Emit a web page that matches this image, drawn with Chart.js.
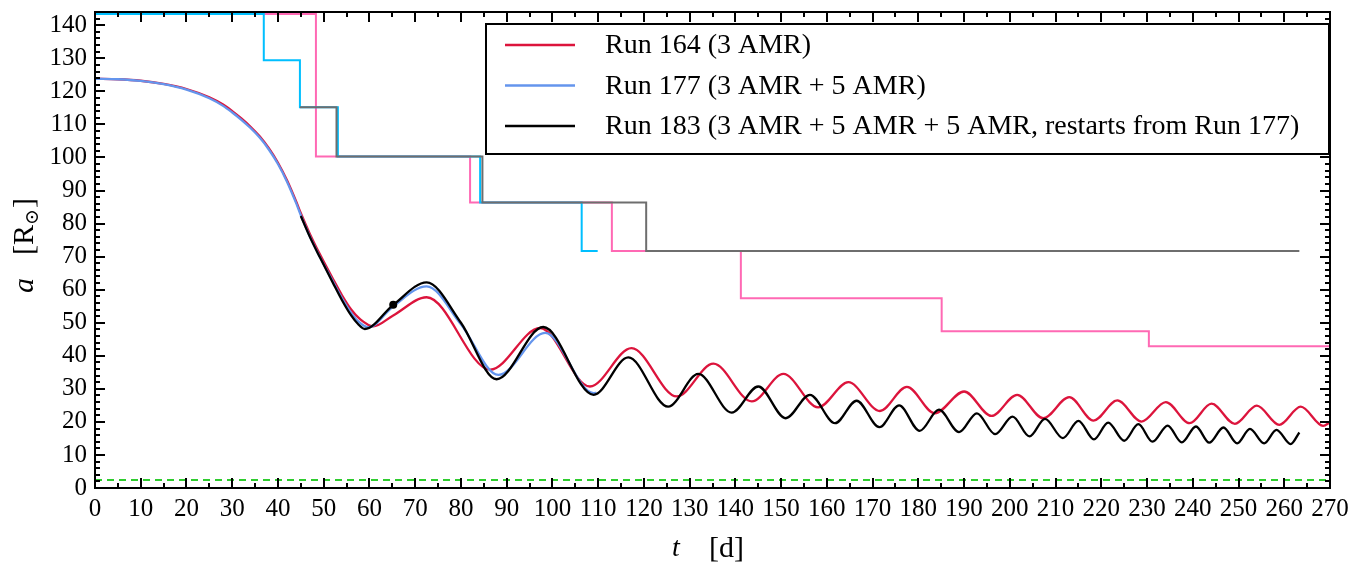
<!DOCTYPE html>
<html lang="en">
<head>
<meta charset="UTF-8">
<title>Separation a(t)</title>
<script src="https://cdn.jsdelivr.net/npm/chart.js"></script>
<style>
  html, body { margin: 0; padding: 0; background: #fff; }
</style>
</head>
<body>
<canvas id="sepChart" width="1371" height="566"></canvas>
<script>
// a(t) for each run, sampled at the extrema plus points along the plunge
const run164T = [0, 5, 10, 15, 20, 25, 28, 30, 32, 34, 36, 38, 40, 42, 44, 45, 47, 49.2, 52, 54, 56, 58, 60.8, 65.2, 72.5, 86.4, 97.3, 108.2, 117.3, 127.2, 135.2, 143.6, 150.5, 158.1, 164.7, 171.6, 177.5, 183.6, 190, 196, 201.6, 207.3, 213, 218.3, 223.5, 228.8, 234.1, 239.3, 244.1, 249.2, 254, 258.9, 263.6, 268.5, 270];
const run164A = [123.8, 123.65, 123.2, 122.25, 120.7, 118.2, 116.0, 114.0, 111.8, 109.3, 106.4, 102.8, 98.4, 93.0, 86.6, 83.1, 76.8, 70.6, 63.3, 58.3, 54.0, 51.0, 48.9, 52.2, 57.7, 35.8, 48.4, 30.7, 42.3, 27.7, 37.6, 26.2, 34.5, 24.4, 32.0, 23.3, 30.6, 22.6, 29.2, 21.8, 28.2, 21.1, 27.5, 20.4, 26.5, 20.1, 26.0, 19.6, 25.5, 19.4, 24.9, 19.1, 24.6, 18.8, 19.9];

const run177T = [0, 5, 10, 15, 20, 25, 28, 30, 32, 34, 36, 38, 40, 42, 44, 45, 47, 49.2, 52, 54, 56, 57.5, 59.8, 65.2, 72.5, 80, 88.2, 98.4, 109, 109.6];
const run177A = [123.8, 123.65, 123.15, 122.15, 120.5, 117.9, 115.6, 113.6, 111.4, 108.9, 106.0, 102.4, 98.0, 92.6, 86.1, 82.5, 76.0, 69.8, 62.5, 57.4, 53.0, 50.5, 48.6, 55.0, 61.0, 49.5, 34.2, 46.9, 28.7, 28.8];

const run183T = [45, 47, 49.2, 52, 54, 56, 57.5, 59, 65.2, 72.5, 80, 87.8, 98, 109, 116.6, 125.3, 131.9, 139.2, 145, 151, 156.3, 161.8, 166.5, 171.5, 175.8, 180.3, 184.5, 188.9, 192.8, 196.8, 200.6, 204.3, 207.7, 211.6, 215, 218.4, 221.5, 225, 228.1, 231.2, 234.5, 237.6, 240.7, 243.6, 246.7, 249.7, 252.5, 255.6, 258.3, 261.4, 263.3];
const run183A = [82.3, 75.9, 69.7, 62.1, 56.8, 52.2, 49.6, 48.1, 55.4, 62.2, 50.0, 32.9, 48.7, 28.2, 39.5, 24.6, 34.5, 22.8, 30.7, 21.1, 28.2, 19.6, 26.4, 18.4, 25.0, 17.3, 23.7, 16.9, 22.6, 16.3, 21.6, 15.6, 20.9, 15.1, 20.3, 14.7, 19.8, 14.3, 19.3, 14.0, 18.9, 13.8, 18.6, 13.7, 18.3, 13.5, 17.9, 13.5, 17.6, 13.3, 16.8];

// step lines: value switches to A[i] at time T[i]
const step164T = [0, 48.3, 82.0, 113.0, 141.2, 185.1, 230.4, 270];
const step164A = [143.4, 100.3, 86.4, 71.7, 57.4, 47.4, 42.9, 42.9];
const step177T = [0, 36.9, 44.8, 53.1, 84.2, 106.4, 109.9];
const step177A = [143.4, 129.4, 115.2, 100.3, 86.4, 71.7, 71.7];
const step183T = [44.8, 52.8, 84.7, 120.5, 263.3];
const step183A = [115.2, 100.3, 86.4, 71.7, 71.7];

// restart marker and the dashed floor
const markT = [65.2];
const markA = [55.4];
const floorT = [0, 270];
const floorA = [2.4, 2.4];

const xMajor = [0, 10, 20, 30, 40, 50, 60, 70, 80, 90, 100, 110, 120, 130, 140, 150, 160, 170, 180, 190, 200, 210, 220, 230, 240, 250, 260, 270];
const yMajor = [0, 10, 20, 30, 40, 50, 60, 70, 80, 90, 100, 110, 120, 130, 140];

const legendLabels = ['Run 164 (3 AMR)', 'Run 177 (3 AMR + 5 AMR)', 'Run 183 (3 AMR + 5 AMR + 5 AMR, restarts from Run 177)'];

const RED = '#dc143c', BLUE = '#6495ed', BLACK = '#000000';
const serif = "'Liberation Serif', 'DejaVu Serif', 'Times New Roman', serif";

const pts = (ts, as) => ts.map((t, i) => ({ x: t, y: as[i] }));

const curve = (label, ts, as, color, order) => ({
  label, data: pts(ts, as), borderColor: color, borderWidth: 2.3,
  pointRadius: 0, cubicInterpolationMode: 'monotone', fill: false, order
});
const step = (ts, as, color, order) => ({
  data: pts(ts, as), borderColor: color, borderWidth: 2,
  pointRadius: 0, stepped: true, fill: false, order
});

// inward ticks on all four sides plus the box frame
const frameTicks = {
  id: 'frameTicks',
  afterDatasetsDraw(chart) {
    const { ctx, chartArea: a, scales: { x, y } } = chart;
    ctx.save();
    ctx.strokeStyle = '#000';
    ctx.lineWidth = 2;
    ctx.beginPath();
    for (let v = 0; v <= 270; v += 5) {
      const px = Math.round(x.getPixelForValue(v));
      const len = v % 10 === 0 ? 10 : 5;
      ctx.moveTo(px, a.bottom); ctx.lineTo(px, a.bottom - len);
      ctx.moveTo(px, a.top); ctx.lineTo(px, a.top + len);
    }
    for (let v = 0; v <= 144; v += 2) {
      const py = Math.round(y.getPixelForValue(v));
      const len = v % 10 === 0 ? 10 : 5;
      ctx.moveTo(a.left, py); ctx.lineTo(a.left + len, py);
      ctx.moveTo(a.right, py); ctx.lineTo(a.right - len, py);
    }
    ctx.stroke();
    ctx.strokeRect(a.left, a.top, a.right - a.left, a.bottom - a.top);
    ctx.restore();
  }
};

// boxed legend in the upper right
const boxLegend = {
  id: 'boxLegend',
  afterDraw(chart) {
    const { ctx } = chart;
    const colors = [RED, BLUE, BLACK];
    const left = 486, top = 24, right = 1329, bottom = 154;
    ctx.save();
    ctx.fillStyle = '#fff';
    ctx.fillRect(left, top, right - left, bottom - top);
    ctx.strokeStyle = '#000';
    ctx.lineWidth = 2;
    ctx.strokeRect(left, top, right - left, bottom - top);
    ctx.font = '28px ' + serif;
    ctx.textBaseline = 'middle';
    legendLabels.forEach((txt, i) => {
      const ry = 45 + i * 40.5;
      ctx.strokeStyle = colors[i];
      ctx.lineWidth = 2.3;
      ctx.beginPath();
      ctx.moveTo(505, ry); ctx.lineTo(575, ry);
      ctx.stroke();
      ctx.fillStyle = '#000';
      ctx.fillText(txt, 605, ry + 1);
    });
    ctx.restore();
  }
};

// axis titles with italic symbols
const axisTitles = {
  id: 'axisTitles',
  afterDraw(chart) {
    const { ctx } = chart;
    ctx.save();
    ctx.fillStyle = '#000';
    ctx.textBaseline = 'alphabetic';
    // x: t [d]
    ctx.font = 'italic 28px ' + serif;
    ctx.fillText('t', 672, 556);
    ctx.font = '30px ' + serif;
    ctx.fillText('[d]', 709, 557);
    // y: a [R_sun]
    ctx.translate(33, 293);
    ctx.rotate(-Math.PI / 2);
    ctx.font = 'italic 30px ' + serif;
    ctx.fillText('a', 0, 0);
    let cx = 38;
    ctx.font = '30px ' + serif;
    ctx.fillText('[R', cx, 0);
    cx += ctx.measureText('[R').width;
    ctx.font = '19px ' + serif;
    ctx.fillText('\u2299', cx, 5);
    cx += ctx.measureText('\u2299').width + 1;
    ctx.font = '30px ' + serif;
    ctx.fillText(']', cx, 0);
    ctx.restore();
  }
};

new Chart(document.getElementById('sepChart'), {
  type: 'line',
  data: {
    datasets: [
      { data: pts(markT, markA), showLine: false, pointRadius: 4, pointBackgroundColor: BLACK, pointBorderWidth: 0, order: -1 },
      curve(legendLabels[2], run183T, run183A, BLACK, 0),
      curve(legendLabels[1], run177T, run177A, BLUE, 1),
      curve(legendLabels[0], run164T, run164A, RED, 2),
      step(step183T, step183A, '#6e6e6e', 3),
      step(step177T, step177A, '#00bfff', 4),
      step(step164T, step164A, '#ff69b4', 5),
      { data: pts(floorT, floorA), borderColor: '#2ecc2e', borderWidth: 2, borderDash: [7, 5], pointRadius: 0, order: 6 }
    ]
  },
  options: {
    responsive: false,
    animation: false,
    events: [],
    layout: { padding: { left: 0, right: 41, top: 12, bottom: 0 } },
    plugins: { legend: { display: false }, tooltip: { enabled: false } },
    scales: {
      x: {
        type: 'linear', min: 0, max: 270,
        grid: { display: false, drawTicks: false },
        border: { display: false },
        afterBuildTicks: s => { s.ticks = xMajor.map(v => ({ value: v })); },
        afterFit: s => { s.height = 78; s.paddingLeft = 0; s.paddingRight = 0; },
        ticks: { autoSkip: false, maxRotation: 0, padding: 6, color: '#000', font: { family: serif, size: 25 } }
      },
      y: {
        type: 'linear', min: 0, max: 144,
        grid: { display: false, drawTicks: false },
        border: { display: false },
        afterBuildTicks: s => { s.ticks = yMajor.map(v => ({ value: v })); },
        afterFit: s => { s.width = 95; s.paddingTop = 0; s.paddingBottom = 0; },
        ticks: { autoSkip: false, padding: 8, color: '#000', font: { family: serif, size: 25 } }
      }
    }
  },
  plugins: [frameTicks, boxLegend, axisTitles]
});
</script>
</body>
</html>
